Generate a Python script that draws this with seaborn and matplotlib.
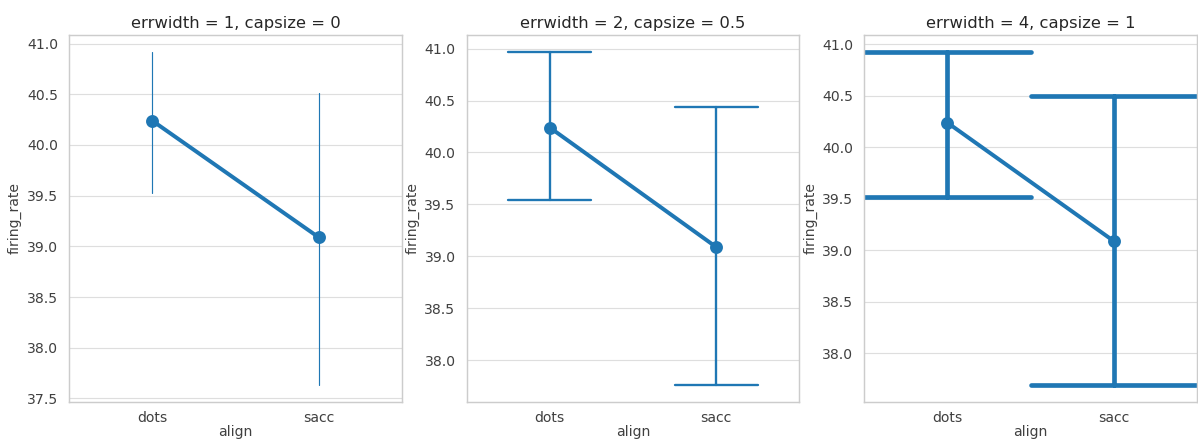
import pandas as pd
import seaborn as sns
import matplotlib.pyplot as plt

# Values
aligns = ["dots", "sacc"]
mean_rate = [40.24, 39.09]

# confidence interval bounds shown in each panel (dots, sacc)
ci_low = [[39.53, 37.63], [39.54, 37.76], [39.52, 37.69]]
ci_high = [[40.92, 40.51], [40.97, 40.44], [40.93, 40.50]]

errwidths = [1, 2, 4]
capsizes = [0, 0.5, 1]

sns.set_theme(style="whitegrid", context="notebook",
              rc={"grid.color": ".87", "axes.edgecolor": ".8"})

fig, axes = plt.subplots(1, 3, figsize=(1198 / 84, 443 / 84), dpi=84)
fig.subplots_adjust(left=0.0576, right=0.9992, bottom=0.0926, top=0.921, wspace=0.195)

for i, ax in enumerate(axes):
    # one row per bound and the mean, so median = mean and min/max = interval
    rows = []
    for j, a in enumerate(aligns):
        for v in (ci_low[i][j], mean_rate[j], ci_high[i][j]):
            rows.append({"align": a, "firing_rate": v})
    df = pd.DataFrame(rows)

    sns.pointplot(data=df, x="align", y="firing_rate", ax=ax,
                  estimator="median",
                  errorbar=lambda v: (v.min(), v.max()),
                  capsize=capsizes[i],
                  color="#1f77b4",
                  linewidth=3.4, markersize=8.5,
                  err_kws={"linewidth": errwidths[i]})
    ax.set_title(f"errwidth = {errwidths[i]}, capsize = {capsizes[i]}", fontsize=14)
    ax.tick_params(labelsize=12, colors=".25")
    ax.tick_params(axis="x", pad=2)
    ax.set_xlabel("align", fontsize=12, color=".25", labelpad=0)
    ax.set_ylabel("firing_rate", fontsize=12, color=".25")

plt.savefig("out.png", dpi=84)
